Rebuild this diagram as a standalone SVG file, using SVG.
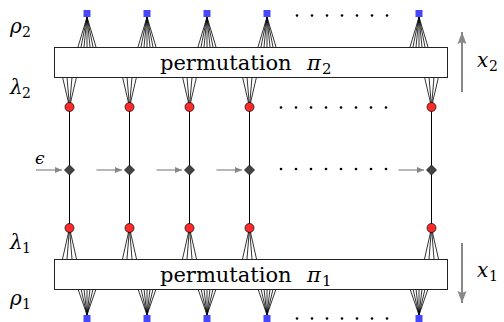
<svg xmlns="http://www.w3.org/2000/svg" width="504" height="322" viewBox="0 0 504 322">
<style>
.box{fill:#fff;stroke:#222;stroke-width:1}
.fan{stroke:#000;stroke-width:0.8;fill:none}
.col{stroke:#000;stroke-width:1}
.sq{fill:#4646ff}
.ci{fill:#ff2a2a;stroke:#000;stroke-width:0.7}
.di{fill:#444;stroke:#000;stroke-width:0.7}
.dot{fill:#000}
.ar{stroke:#888;stroke-width:1.2;fill:none}
.big{stroke:#888;stroke-width:2;fill:none}
</style>
<defs>
<marker id="ah" markerWidth="8" markerHeight="8" refX="7" refY="4" orient="auto" markerUnits="userSpaceOnUse">
<path d="M0,1 L7,4 L0,7 Z" fill="#888"/>
</marker>
<marker id="ahb" markerWidth="14" markerHeight="14" refX="12" refY="7" orient="auto" markerUnits="userSpaceOnUse">
<path d="M0,2.5 L12,7 L0,11.5 L2,7 Z" fill="#888"/>
</marker>
</defs>

<g id="connectors">
<line class="col" x1="69.5" y1="107" x2="69.5" y2="228"/>
<line class="col" x1="129.5" y1="107" x2="129.5" y2="228"/>
<line class="col" x1="189.5" y1="107" x2="189.5" y2="228"/>
<line class="col" x1="249.5" y1="107" x2="249.5" y2="228"/>
<line class="col" x1="431.5" y1="107" x2="431.5" y2="228"/>
<path class="fan" d="M87,17 L78,47 M87,17 L81,47 M87,17 L84,47 M87,17 L87,47 M87,17 L90,47 M87,17 L93,47 M87,17 L96,47"/>
<path class="fan" d="M147,17 L138,47 M147,17 L141,47 M147,17 L144,47 M147,17 L147,47 M147,17 L150,47 M147,17 L153,47 M147,17 L156,47"/>
<path class="fan" d="M207,17 L198,47 M207,17 L201,47 M207,17 L204,47 M207,17 L207,47 M207,17 L210,47 M207,17 L213,47 M207,17 L216,47"/>
<path class="fan" d="M267,17 L258,47 M267,17 L261,47 M267,17 L264,47 M267,17 L267,47 M267,17 L270,47 M267,17 L273,47 M267,17 L276,47"/>
<path class="fan" d="M419,17 L410,47 M419,17 L413,47 M419,17 L416,47 M419,17 L419,47 M419,17 L422,47 M419,17 L425,47 M419,17 L428,47"/>
<path class="fan" d="M87,315 L78,289 M87,315 L81,289 M87,315 L84,289 M87,315 L87,289 M87,315 L90,289 M87,315 L93,289 M87,315 L96,289"/>
<path class="fan" d="M147,315 L138,289 M147,315 L141,289 M147,315 L144,289 M147,315 L147,289 M147,315 L150,289 M147,315 L153,289 M147,315 L156,289"/>
<path class="fan" d="M207,315 L198,289 M207,315 L201,289 M207,315 L204,289 M207,315 L207,289 M207,315 L210,289 M207,315 L213,289 M207,315 L216,289"/>
<path class="fan" d="M267,315 L258,289 M267,315 L261,289 M267,315 L264,289 M267,315 L267,289 M267,315 L270,289 M267,315 L273,289 M267,315 L276,289"/>
<path class="fan" d="M419,315 L410,289 M419,315 L413,289 M419,315 L416,289 M419,315 L419,289 M419,315 L422,289 M419,315 L425,289 M419,315 L428,289"/>
<path class="fan" d="M69.5,107 L62.5,77 M69.5,107 L67,77 M69.5,107 L72,77 M69.5,107 L76.5,77"/>
<path class="fan" d="M129.5,107 L122.5,77 M129.5,107 L127,77 M129.5,107 L132,77 M129.5,107 L136.5,77"/>
<path class="fan" d="M189.5,107 L182.5,77 M189.5,107 L187,77 M189.5,107 L192,77 M189.5,107 L196.5,77"/>
<path class="fan" d="M249.5,107 L242.5,77 M249.5,107 L247,77 M249.5,107 L252,77 M249.5,107 L256.5,77"/>
<path class="fan" d="M431.5,107 L424.5,77 M431.5,107 L429,77 M431.5,107 L434,77 M431.5,107 L438.5,77"/>
<path class="fan" d="M69.5,228 L62.5,259 M69.5,228 L67,259 M69.5,228 L72,259 M69.5,228 L76.5,259"/>
<path class="fan" d="M129.5,228 L122.5,259 M129.5,228 L127,259 M129.5,228 L132,259 M129.5,228 L136.5,259"/>
<path class="fan" d="M189.5,228 L182.5,259 M189.5,228 L187,259 M189.5,228 L192,259 M189.5,228 L196.5,259"/>
<path class="fan" d="M249.5,228 L242.5,259 M249.5,228 L247,259 M249.5,228 L252,259 M249.5,228 L256.5,259"/>
<path class="fan" d="M431.5,228 L424.5,259 M431.5,228 L429,259 M431.5,228 L434,259 M431.5,228 L438.5,259"/>
<line class="ar" x1="36" y1="170" x2="62" y2="170" marker-end="url(#ah)"/>
<line class="ar" x1="96.5" y1="170" x2="122" y2="170" marker-end="url(#ah)"/>
<line class="ar" x1="156.5" y1="170" x2="182" y2="170" marker-end="url(#ah)"/>
<line class="ar" x1="216.5" y1="170" x2="242" y2="170" marker-end="url(#ah)"/>
<line class="ar" x1="398.5" y1="170" x2="424" y2="170" marker-end="url(#ah)"/>
<line class="big" x1="462" y1="92" x2="462" y2="32" marker-end="url(#ahb)"/>
<line class="big" x1="462" y1="243" x2="462" y2="303" marker-end="url(#ahb)"/>
</g>

<g id="perm2">
<rect class="box" x="54.5" y="47.5" width="393" height="30"/>
<text x="160" y="70" font-family="DejaVu Serif" font-size="21">permutation</text>
<text x="307" y="70" font-family="DejaVu Serif" font-style="italic" font-size="21">π</text>
<text x="322" y="74" font-family="DejaVu Serif" font-size="15">2</text>
</g>
<g id="perm1">
<rect class="box" x="54.5" y="259.5" width="393" height="30"/>
<text x="160" y="282" font-family="DejaVu Serif" font-size="21">permutation</text>
<text x="307" y="282" font-family="DejaVu Serif" font-style="italic" font-size="21">π</text>
<text x="322" y="286" font-family="DejaVu Serif" font-size="15">1</text>
</g>

<g id="inputs-top">
<rect class="sq" x="83.5" y="10" width="7" height="7"/>
<rect class="sq" x="143.5" y="10" width="7" height="7"/>
<rect class="sq" x="203.5" y="10" width="7" height="7"/>
<rect class="sq" x="263.5" y="10" width="7" height="7"/>
<rect class="sq" x="415.5" y="10" width="7" height="7"/>
</g>
<g id="inputs-bottom">
<rect class="sq" x="83.5" y="315" width="7" height="7"/>
<rect class="sq" x="143.5" y="315" width="7" height="7"/>
<rect class="sq" x="203.5" y="315" width="7" height="7"/>
<rect class="sq" x="263.5" y="315" width="7" height="7"/>
<rect class="sq" x="415.5" y="315" width="7" height="7"/>
</g>
<g id="circles-top">
<circle class="ci" cx="69.5" cy="107" r="4.5"/>
<circle class="ci" cx="129.5" cy="107" r="4.5"/>
<circle class="ci" cx="189.5" cy="107" r="4.5"/>
<circle class="ci" cx="249.5" cy="107" r="4.5"/>
<circle class="ci" cx="431.5" cy="107" r="4.5"/>
</g>
<g id="circles-bottom">
<circle class="ci" cx="69.5" cy="228" r="4.5"/>
<circle class="ci" cx="129.5" cy="228" r="4.5"/>
<circle class="ci" cx="189.5" cy="228" r="4.5"/>
<circle class="ci" cx="249.5" cy="228" r="4.5"/>
<circle class="ci" cx="431.5" cy="228" r="4.5"/>
</g>
<g id="diamonds">
<path class="di" d="M69.5,165 L74.5,170 L69.5,175 L64.5,170 Z"/>
<path class="di" d="M129.5,165 L134.5,170 L129.5,175 L124.5,170 Z"/>
<path class="di" d="M189.5,165 L194.5,170 L189.5,175 L184.5,170 Z"/>
<path class="di" d="M249.5,165 L254.5,170 L249.5,175 L244.5,170 Z"/>
<path class="di" d="M431.5,165 L436.5,170 L431.5,175 L426.5,170 Z"/>
</g>
<g id="dots">
<g class="dot">
<circle cx="297" cy="15.5" r="1.3"/><circle cx="312" cy="15.5" r="1.3"/><circle cx="327" cy="15.5" r="1.3"/><circle cx="342" cy="15.5" r="1.3"/><circle cx="357" cy="15.5" r="1.3"/><circle cx="372" cy="15.5" r="1.3"/><circle cx="387" cy="15.5" r="1.3"/>
<circle cx="281" cy="107.5" r="1.3"/><circle cx="296" cy="107.5" r="1.3"/><circle cx="311" cy="107.5" r="1.3"/><circle cx="326" cy="107.5" r="1.3"/><circle cx="341" cy="107.5" r="1.3"/><circle cx="356" cy="107.5" r="1.3"/><circle cx="371" cy="107.5" r="1.3"/><circle cx="386" cy="107.5" r="1.3"/>
<circle cx="281" cy="169" r="1.3"/><circle cx="296" cy="169" r="1.3"/><circle cx="311" cy="169" r="1.3"/><circle cx="326" cy="169" r="1.3"/><circle cx="341" cy="169" r="1.3"/><circle cx="356" cy="169" r="1.3"/><circle cx="371" cy="169" r="1.3"/><circle cx="386" cy="169" r="1.3"/>
<circle cx="297" cy="318.5" r="1.3"/><circle cx="312" cy="318.5" r="1.3"/><circle cx="327" cy="318.5" r="1.3"/><circle cx="342" cy="318.5" r="1.3"/><circle cx="357" cy="318.5" r="1.3"/><circle cx="372" cy="318.5" r="1.3"/><circle cx="387" cy="318.5" r="1.3"/>
</g>
</g>

<g id="labels">
<text x="10" y="33" font-family="DejaVu Serif" font-style="italic" font-size="20">ρ</text><text x="22" y="37" font-family="DejaVu Serif" font-size="14">2</text>
<text x="10" y="94" font-family="DejaVu Serif" font-style="italic" font-size="20">λ</text><text x="22" y="98" font-family="DejaVu Serif" font-size="14">2</text>
<text x="35" y="164" font-family="DejaVu Serif" font-style="italic" font-size="17">ϵ</text>
<text x="10" y="249" font-family="DejaVu Serif" font-style="italic" font-size="20">λ</text><text x="22" y="253" font-family="DejaVu Serif" font-size="14">1</text>
<text x="10" y="305" font-family="DejaVu Serif" font-style="italic" font-size="20">ρ</text><text x="22" y="309" font-family="DejaVu Serif" font-size="14">1</text>
<text x="477" y="67" font-family="DejaVu Serif" font-style="italic" font-size="20">x</text><text x="489" y="71" font-family="DejaVu Serif" font-size="14">2</text>
<text x="477" y="277" font-family="DejaVu Serif" font-style="italic" font-size="20">x</text><text x="489" y="281" font-family="DejaVu Serif" font-size="14">1</text>
</g>
</svg>
